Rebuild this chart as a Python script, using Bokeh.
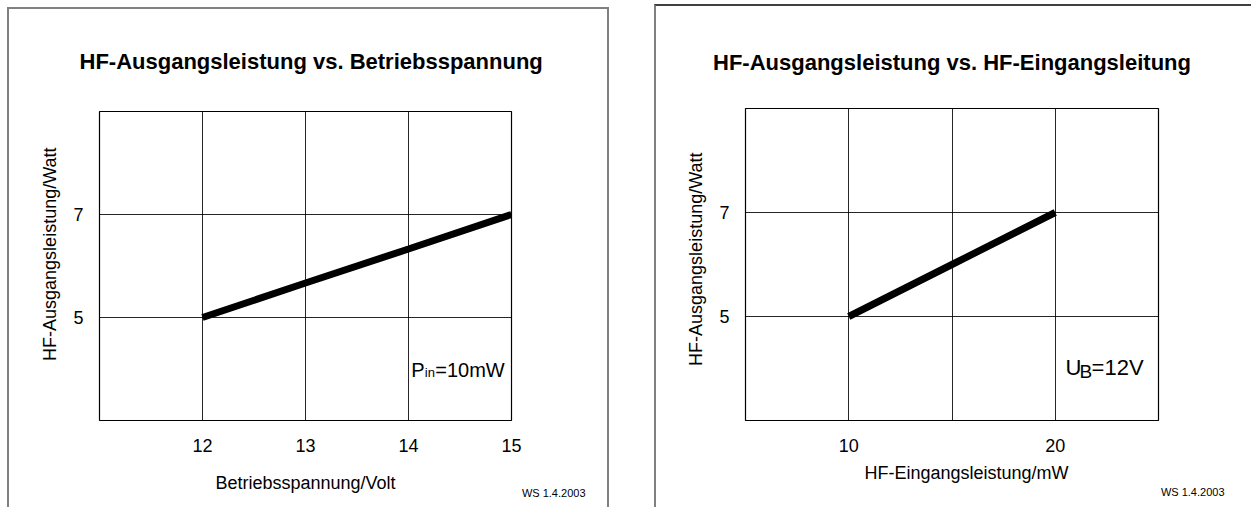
from bokeh.plotting import figure
from bokeh.models import Range1d, FixedTicker, Label, Title
from bokeh.layouts import row
from bokeh.embed import file_html
from bokeh.resources import INLINE

FONT = "Liberation Sans"

# ---- data ----
volt_x = [12, 13, 14, 15]
volt_p = [5.0, 5.67, 6.33, 7.0]
volt_ticks = [12, 13, 14, 15]
volt_grid = [12, 13, 14]

pin_x = [10, 15, 20]
pin_p = [5.0, 6.0, 7.0]
pin_ticks = [10, 20]
pin_grid = [10, 15, 20]

pout_ticks = [5, 7]

title_left = "HF-Ausgangsleistung vs. Betriebsspannung"
title_right = "HF-Ausgangsleistung vs. HF-Eingangsleitung"
xlabel_left = "Betriebsspannung/Volt"
xlabel_right = "HF-Eingangsleistung/mW"
ylabel = "HF-Ausgangsleistung/Watt"
stamp = "WS 1.4.2003"


def make_panel(width, height, mb_left, mb_right, mb_top, mb_bottom, xr, xticks, xgrid,
               title, title_standoff):
    p = figure(width=width, height=height, output_backend="svg", toolbar_location=None,
               x_range=Range1d(*xr), y_range=Range1d(3, 9),
               min_border_left=mb_left, min_border_right=mb_right,
               min_border_top=mb_top, min_border_bottom=mb_bottom)
    p.title.text = title
    p.title.text_font = FONT
    p.title.text_font_size = "22px"
    p.title.text_font_style = "bold"
    p.title.text_color = "black"
    p.title.vertical_align = "middle"
    p.title.standoff = title_standoff
    p.outline_line_color = "black"
    p.outline_line_width = 1.2
    p.background_fill_color = "white"
    p.border_fill_color = "white"

    p.xaxis.ticker = FixedTicker(ticks=xticks)
    p.yaxis.ticker = FixedTicker(ticks=pout_ticks)
    p.xgrid.ticker = FixedTicker(ticks=xgrid)
    p.ygrid.ticker = FixedTicker(ticks=pout_ticks)
    for g in (p.xgrid, p.ygrid):
        g.grid_line_color = "black"
        g.grid_line_width = 1
        g.grid_line_alpha = 0.85
    for ax in (p.xaxis, p.yaxis):
        ax.axis_line_color = None
        ax.major_tick_line_color = None
        ax.minor_tick_line_color = None
        ax.major_label_text_font = FONT
        ax.major_label_text_font_size = "18px"
        ax.major_label_text_color = "black"
        ax.axis_label_text_font = FONT
        ax.axis_label_text_font_size = "18px"
        ax.axis_label_text_font_style = "normal"
        ax.axis_label_text_color = "black"
    p.xaxis.major_label_standoff = 12
    p.yaxis.major_label_standoff = 10
    return p


def note(p, x, y, text, size):
    p.add_layout(Label(x=x, y=y, text=text, text_font=FONT, text_font_size=size,
                       text_color="black", text_baseline="alphabetic", text_align="left"))


def side_title(p, side, text, size, align, offset, standoff, valign):
    p.add_layout(Title(text=text, text_font=FONT, text_font_size=size,
                       text_font_style="normal", text_color="black",
                       align=align, offset=offset, vertical_align=valign,
                       standoff=standoff), side)


# left panel
p1 = make_panel(602, 500, 90, 100, 102, 89, (11, 15), volt_ticks, volt_grid,
                title_left, 74)
p1.title.align = "left"
p1.title.offset = -20
p1.xaxis.axis_label = xlabel_left
p1.xaxis.axis_label_standoff = 18
p1.line(volt_x, volt_p, line_width=7, line_color="black", line_cap="butt")
note(p1, 14.027, 3.985, "P", "20px")
note(p1, 14.158, 3.936, "in", "13px")
note(p1, 14.26, 3.985, "=10mW", "20px")
side_title(p1, "below", stamp, "11px", "right", -74, -17, "top")
side_title(p1, "left", ylabel, "18px", "right", 36, 22, "bottom")
p1.styles = {"border-left": "2px solid #808080", "border-top": "2px solid #808080",
             "border-right": "2px solid #808080"}
p1.margin = (7, 0, 0, 7)

# right panel
p2 = make_panel(597, 503, 89, 95, 102, 89, (5, 25), pin_ticks, pin_grid,
                title_right, 66)
p2.title.align = "center"
p2.line(pin_x, pin_p, line_width=7, line_color="black", line_cap="butt")
note(p2, 20.50, 4.015, "U", "22px")
note(p2, 21.17, 3.938, "B", "19px")
note(p2, 21.76, 4.015, "=12V", "22px")
side_title(p2, "below", xlabel_right, "18px", "left", 119, 17, "top")
side_title(p2, "below", stamp, "11px", "right", -66, -15, "top")
side_title(p2, "left", ylabel, "18px", "right", 44, 21, "bottom")
p2.styles = {"border-left": "2px solid #808080", "border-top": "2px solid #404040"}
p2.margin = (4, 0, 0, 0)

layout = row(p1, p2, spacing=45)
open("out.html", "w").write(file_html(layout, INLINE))
